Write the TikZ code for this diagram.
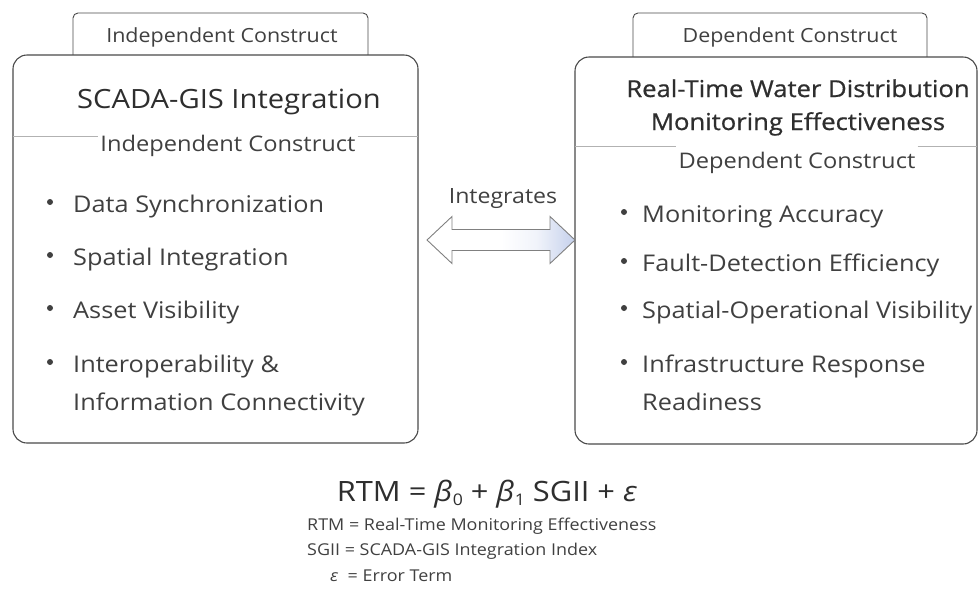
\documentclass[tikz,border=0pt]{standalone}
\usepackage{fontspec}
\setmainfont{Open Sans}[FakeStretch=1.1]
\newfontfamily\headfont{Open Sans}[FakeStretch=1.1, FakeBold=0.7]
\usetikzlibrary{calc}
\definecolor{ink}{HTML}{2E2E2E}
\definecolor{softink}{HTML}{404040}
\definecolor{rim}{HTML}{4A4A4A}
\definecolor{arrowblue}{RGB}{112,140,208}
\pgfdeclarehorizontalshading{linkfade}{100bp}{%
  color(0bp)=(white); color(50bp)=(white); color(62bp)=(white!90!arrowblue);
  color(100bp)=(arrowblue)}
\tikzset{
  panel/.style={draw=rim, line width=1.1pt, fill=white, rounded corners=14pt},
  tabbox/.style={draw=rim, line width=0.9pt, fill=white, rounded corners=5pt},
  tabtext/.style={text=softink, anchor=base, inner sep=0pt, font=\fontsize{19.5}{22}\selectfont},
  headtext/.style={text=ink, anchor=base, inner sep=0pt, font=\fontsize{26.5}{30}\selectfont},
  headtextB/.style={text=ink, anchor=base, inner sep=0pt, font=\headfont\fontsize{23.3}{26}\selectfont},
  subtext/.style={text=softink, anchor=base, inner sep=2pt, font=\fontsize{21.5}{24}\selectfont},
  item/.style={text=softink, font=\fontsize{23}{26}\selectfont, anchor=base west, inner sep=0pt},
  dot/.style={circle, fill=softink, inner sep=0pt, minimum size=6pt},
  sepline/.style={draw=gray!60, line width=0.8pt},
  eqtext/.style={text=ink, anchor=base, inner sep=0pt, font=\fontsize{28}{30}\selectfont},
  deftext/.style={text=softink, font=\fontsize{16.3}{20}\selectfont, anchor=base west, inner sep=0pt}
}
\newcommand{\lowidx}[1]{\kern0.5pt\raisebox{-4pt}{\fontsize{16}{16}\selectfont #1}}
\begin{document}
\begin{tikzpicture}[x=1pt, y=-1pt]
\useasboundingbox (0,0) rectangle (979,603);

% ---------- left panel ----------
\draw[tabbox] (73,56) -- (73,13) -- (368,13) -- (368,56);
\node[tabtext] (ltab) at (222,42) {Independent Construct};
\draw[panel] (13,55) rectangle (418,443);
\node[headtext] (ltitle) at (229,108) {SCADA-GIS Integration};
\node[subtext] (lsub) at (228,151) {Independent Construct};
\draw[sepline] (13,136) -- (lsub.west |- 0,136);
\draw[sepline] (lsub.east |- 0,136) -- (418,136);

\node[dot] (ld1) at (50,202) {};
\node[item] (li1) at (73,212) {Data Synchronization};
\node[dot] (ld2) at (50,255) {};
\node[item] (li2) at (73,265) {Spatial Integration};
\node[dot] (ld3) at (50,308) {};
\node[item] (li3) at (73,318) {Asset Visibility};
\node[dot] (ld4) at (50,362) {};
\node[item] (li4) at (73,372) {Interoperability \&};
\node[item] (li4b) at (73,410) {Information Connectivity};

% ---------- right panel ----------
\draw[tabbox] (633,58) -- (633,13) -- (927,13) -- (927,58);
\node[tabtext] (rtab) at (790,42) {Dependent Construct};
\draw[panel] (575,57) rectangle (977,444);
\node[headtextB] (rtitle) at (798,97) {Real-Time Water Distribution};
\node[headtextB] (rtitleb) at (798,130) {Monitoring Effectiveness};
\node[subtext] (rsub) at (797,168) {Dependent Construct};
\draw[sepline] (575,146) -- (rsub.west |- 0,146);
\draw[sepline] (rsub.east |- 0,146) -- (977,146);

\node[dot] (rd1) at (624,212) {};
\node[item] (ri1) at (642,222) {Monitoring Accuracy};
\node[dot] (rd2) at (624,261) {};
\node[item] (ri2) at (642,271) {Fault-Detection Efficiency};
\node[dot] (rd3) at (624,308) {};
\node[item] (ri3) at (642,318) {Spatial-Operational Visibility};
\node[dot] (rd4) at (624,362) {};
\node[item] (ri4) at (642,372) {Infrastructure Response};
\node[item] (ri4b) at (642,410) {Readiness};

% ---------- link between the constructs ----------
\coordinate (lt) at (427,240);
\coordinate (rt) at (575,240);
\draw[draw=gray, line width=0.9pt, shading=linkfade, line join=miter]
  (lt) -- ++(25,-23.5) -- ++(0,13) -- ($(rt)+(-25,-10.5)$) -- ++(0,-13) -- (rt)
  -- ++(-25,23.5) -- ++(0,-13) -- ($(lt)+(25,10.5)$) -- ++(0,13) -- cycle;
\node[text=softink, anchor=base, inner sep=0pt, font=\fontsize{21}{24}\selectfont] (linklbl) at (503,203) {Integrates};

% ---------- model equation ----------
\node[eqtext] (eq) at (487,501) {RTM = \textit{β}\lowidx{0} + \textit{β}\lowidx{1} SGII + \textit{ε}};
\node[deftext] (def1) at (307,530) {RTM = Real-Time Monitoring Effectiveness};
\node[deftext] (def2) at (307,555) {SGII = SCADA-GIS Integration Index};
\node[deftext] (def3) at (330,581) {\textit{ε}\ \ = Error Term};
\end{tikzpicture}
\end{document}
